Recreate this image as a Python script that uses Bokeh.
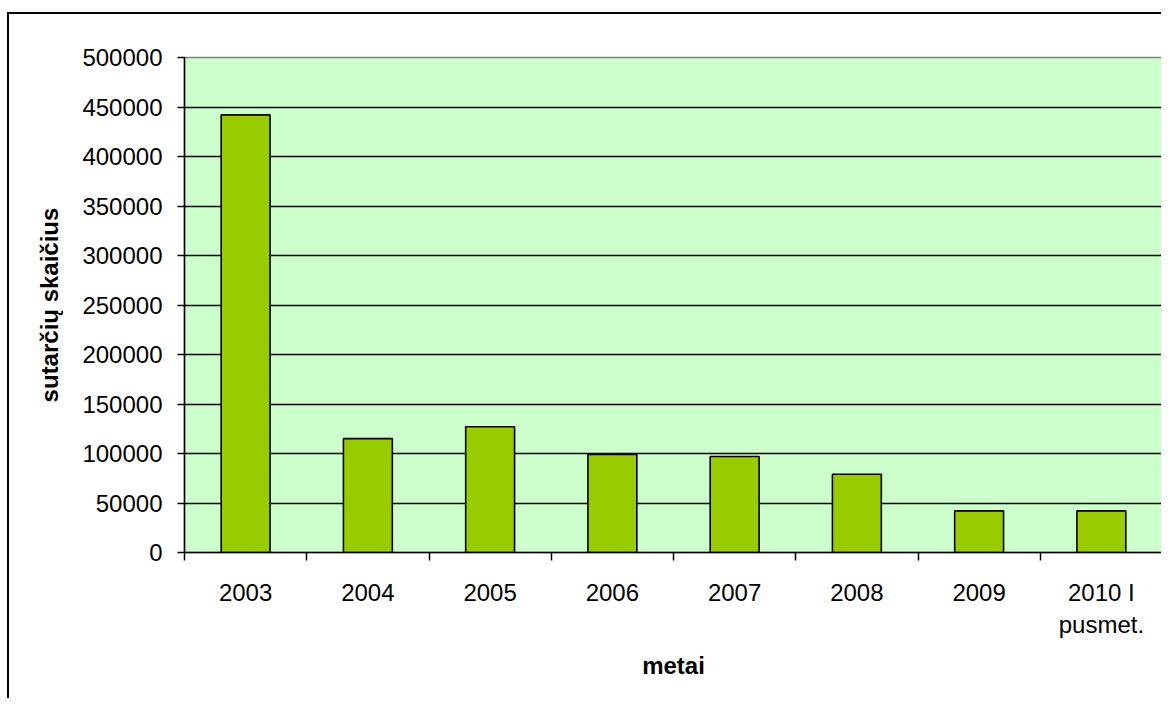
from bokeh.plotting import figure
from bokeh.models import Range1d, FixedTicker, NumeralTickFormatter, ColumnDataSource
from bokeh.embed import file_html
from bokeh.resources import INLINE

# ---- data ----
categories = ["2003", "2004", "2005", "2006", "2007", "2008", "2009", "2010 I\npusmet."]
values = [442000, 115000, 127000, 99000, 97000, 79000, 42000, 42000]
y_ticks = [0, 50000, 100000, 150000, 200000, 250000, 300000, 350000, 400000, 450000, 500000]
x_title = "metai"
y_title = "sutarčių skaičius"

n = len(categories)
centers = [i + 0.5 for i in range(n)]
bounds = [i for i in range(n + 1)]

FONT = "Liberation Sans"

p = figure(width=1154, height=686, output_backend="svg", toolbar_location=None,
           x_range=Range1d(0, n), y_range=Range1d(y_ticks[0], y_ticks[-1]),
           min_border_left=175, min_border_top=43, min_border_right=1, min_border_bottom=148)

p.styles = {"border-top": "2px solid black", "border-left": "2px solid black",
            "margin-top": "12px", "margin-left": "7px"}

p.background_fill_color = "#CCFFCC"
p.border_fill_color = "white"
p.outline_line_color = "#808080"
p.outline_line_width = 1.5

src = ColumnDataSource(dict(x=centers, top=values))
p.vbar(x="x", top="top", width=0.4, source=src, fill_color="#99CC00",
       line_color="black", line_width=1.6)

# y axis
ya = p.yaxis[0]
ya.ticker = FixedTicker(ticks=y_ticks)
ya.formatter = NumeralTickFormatter(format="0")
ya.major_tick_out = 7
ya.major_tick_in = 0
ya.minor_tick_out = 0
ya.minor_tick_in = 0
ya.major_label_standoff = 15
ya.major_label_text_font = FONT
ya.major_label_text_font_size = "24px"
ya.major_label_text_color = "black"
ya.axis_line_color = "black"
ya.axis_line_width = 1.5
ya.major_tick_line_width = 1.5
ya.major_tick_line_color = "black"
ya.axis_label = y_title
ya.axis_label_text_font = FONT
ya.axis_label_text_font_style = "bold"
ya.axis_label_text_font_size = "24px"
ya.axis_label_text_color = "black"
ya.axis_label_standoff = 16

# x axis
xa = p.xaxis[0]
xa.ticker = FixedTicker(ticks=centers, minor_ticks=bounds)
xa.major_label_overrides = {c: lab for c, lab in zip(centers, categories)}
xa.major_tick_out = 0
xa.major_tick_in = 0
xa.minor_tick_out = 8
xa.minor_tick_in = 0
xa.minor_tick_line_color = "black"
xa.minor_tick_line_width = 1.5
xa.major_label_standoff = 18
xa.major_label_text_font = FONT
xa.major_label_text_font_size = "24px"
xa.major_label_text_color = "black"
xa.axis_line_color = "black"
xa.axis_line_width = 1.5
xa.axis_label = x_title
xa.axis_label_text_font = FONT
xa.axis_label_text_font_style = "bold"
xa.axis_label_text_font_size = "24px"
xa.axis_label_text_color = "black"
xa.axis_label_standoff = 11

p.xgrid.visible = False
p.ygrid.ticker = FixedTicker(ticks=y_ticks[1:-1])
p.ygrid.grid_line_color = "black"
p.ygrid.grid_line_width = 1.5

open("out.html", "w").write(file_html(p, INLINE))
